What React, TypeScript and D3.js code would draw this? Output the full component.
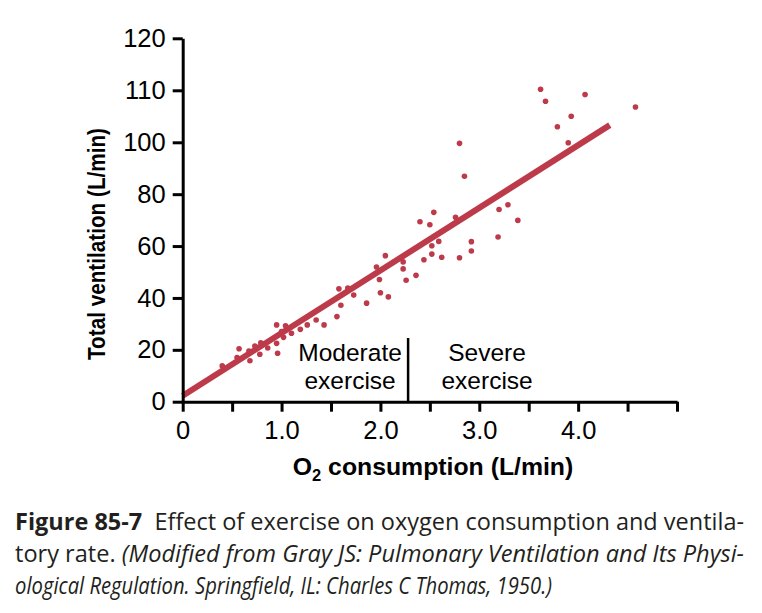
import React, { useEffect, useRef } from "react";
import * as d3 from "d3";

// O2 consumption (L/min), one entry per measurement
const o2Uptake = [
  0.4, 0.55, 0.57, 0.68, 0.67, 0.73, 0.78, 0.79, 0.86, 0.95,
  0.95, 0.96, 1.0, 1.02, 1.04, 1.1, 1.19, 1.26, 1.35, 1.43,
  1.56, 1.58, 1.6, 1.67, 1.73, 1.86, 1.96, 1.99, 2.0, 2.05,
  2.08, 2.23, 2.23, 2.26, 2.36, 2.44, 2.52, 2.52, 2.59, 2.62,
  2.4, 2.5, 2.54, 2.76, 2.8, 2.92, 2.92, 3.19, 3.2, 3.29,
  3.39, 2.8, 2.85, 3.62, 3.67, 4.07, 4.58, 3.93, 3.79, 3.9,
];

// Total ventilation (L/min), same order as o2Uptake
const ventilation = [
  13.8, 17.0, 20.4, 15.8, 19.5, 21.5, 18.3, 22.7, 20.7, 29.6,
  22.5, 18.7, 27.0, 24.8, 29.3, 26.4, 27.9, 29.6, 31.5, 29.6,
  32.8, 43.5, 37.2, 43.8, 41.1, 38.0, 51.9, 47.1, 42.0, 56.3,
  40.4, 53.9, 51.2, 46.8, 48.7, 54.7, 60.1, 56.9, 61.8, 55.7,
  69.4, 68.2, 73.0, 71.1, 55.5, 61.7, 58.1, 63.5, 74.1, 75.9,
  69.9, 99.6, 86.9, 110.2, 107.9, 109.2, 106.8, 105.0, 103.0, 99.8,
];

// regression line end points
const fitO2 = [0, 4.32];
const fitVent = [2.3, 103.3];

const xTicks = [0, 0.5, 1, 1.5, 2, 2.5, 3, 3.5, 4, 4.5, 5];
const xTickLabels = ["0", "", "1.0", "", "2.0", "", "3.0", "", "4.0", "", ""];
const yTicks = [0, 20, 40, 60, 80, 100, 110, 120];
const yTickLabels = ["0", "20", "40", "60", "80", "100", "110", "120"];

// boundary between the two exercise zones (L/min)
const zoneSplit = 2.28;
const moderateLabel = ["Moderate", "exercise"];
const severeLabel = ["Severe", "exercise"];

const captionLines = [
  [
    { text: "Figure 85-7", weight: "bold", style: "normal" },
    { text: "\u00a0 Effect of exercise on oxygen consumption and ventila-", weight: "normal", style: "normal" },
  ],
  [
    { text: "tory rate. ", weight: "normal", style: "normal" },
    { text: "(Modified from Gray JS: Pulmonary Ventilation and Its Physi-", weight: "normal", style: "italic" },
  ],
  [
    { text: "ological Regulation. Springfield, IL: Charles C Thomas, 1950.)", weight: "normal", style: "italic" },
  ],
];
const captionWidths = [729, 729, 537];

const RED = "#bd3a4a";
const INK = "#000";
const SANS = "'Liberation Sans', Arial, Helvetica, sans-serif";

const App = () => {
  const ref = useRef<SVGSVGElement>(null);

  useEffect(() => {
    const svg = d3.select(ref.current);
    svg.selectAll("*").remove();

    const x = d3.scaleLinear().domain([0, 5]).range([182.7, 677]);
    // the axis is labelled 100, 110, 120 above 100 at the same spacing as the 20s below
    const y = d3.scaleLinear().domain([0, 100, 120]).range([401.7, 142.3, 38.3]);

    const points = o2Uptake.map((d, i) => ({ o2: d, v: ventilation[i] }));

    // regression line
    const fit = fitO2.map((d, i) => ({ o2: d, v: fitVent[i] }));
    svg.append("path")
      .datum(fit)
      .attr("fill", "none")
      .attr("stroke", RED)
      .attr("stroke-width", 6)
      .attr("d", d3.line<{ o2: number; v: number }>().x(d => x(d.o2)).y(d => y(d.v)));

    svg.append("g")
      .selectAll("circle")
      .data(points)
      .join("circle")
      .attr("cx", d => x(d.o2))
      .attr("cy", d => y(d.v))
      .attr("r", 2.8)
      .attr("fill", RED);

    // zone divider
    svg.append("line")
      .attr("x1", x(zoneSplit)).attr("x2", x(zoneSplit))
      .attr("y1", 338).attr("y2", y(0))
      .attr("stroke", INK)
      .attr("stroke-width", 2.5);

    const zone = (lines: string[], cx: number) => {
      const t = svg.append("text")
        .attr("text-anchor", "middle")
        .attr("font-family", SANS)
        .attr("font-size", 24.5)
        .attr("fill", INK);
      lines.forEach((s, i) => {
        t.append("tspan").attr("x", cx).attr("y", 361 + i * 28).text(s);
      });
    };
    zone(moderateLabel, x(zoneSplit) - 58);
    zone(severeLabel, x(zoneSplit) + 79);

    // axes
    const xAxis = svg.append("g")
      .attr("transform", `translate(0,${y(0)})`)
      .call(
        d3.axisBottom(x)
          .tickValues(xTicks)
          .tickSize(10)
          .tickSizeOuter(0)
          .tickPadding(9)
          .tickFormat((_, i) => xTickLabels[i])
      );

    const yAxis = svg.append("g")
      .attr("transform", `translate(${x(0)},0)`)
      .call(
        d3.axisLeft(y)
          .tickValues(yTicks)
          .tickSize(10)
          .tickSizeOuter(0)
          .tickPadding(7)
          .tickFormat((_, i) => yTickLabels[i])
      );

    [xAxis, yAxis].forEach(g => {
      g.select(".domain").attr("stroke", INK).attr("stroke-width", 3);
      g.selectAll(".tick line").attr("stroke", INK).attr("stroke-width", 3);
      g.selectAll(".tick text")
        .attr("font-family", SANS)
        .attr("font-size", 25.5)
        .attr("fill", INK);
    });

    // axis titles
    const xTitle = svg.append("text")
      .attr("x", 433)
      .attr("y", 475)
      .attr("text-anchor", "middle")
      .attr("font-family", SANS)
      .attr("font-weight", "bold")
      .attr("font-size", 24.8)
      .attr("fill", INK);
    xTitle.append("tspan").text("O");
    xTitle.append("tspan").attr("font-size", 16.5).attr("dy", 6).text("2");
    xTitle.append("tspan").attr("dy", -6).text(" consumption (L/min)");

    svg.append("text")
      .attr("transform", "translate(105,244) rotate(-90)")
      .attr("text-anchor", "middle")
      .attr("font-family", SANS)
      .attr("font-weight", "bold")
      .attr("font-size", 23)
      .attr("textLength", 232)
      .attr("lengthAdjust", "spacingAndGlyphs")
      .attr("fill", INK)
      .text("Total ventilation (L/min)");

    // caption
    captionLines.forEach((parts, i) => {
      const t = svg.append("text")
        .attr("x", 15)
        .attr("y", 530 + i * 32)
        .attr("font-family", "'Open Sans', 'Noto Sans', sans-serif")
        .attr("font-size", 23.5)
        .attr("fill", "#231f20")
        .attr("textLength", captionWidths[i])
        .attr("lengthAdjust", "spacingAndGlyphs");
      parts.forEach(p => {
        t.append("tspan")
          .attr("font-weight", p.weight)
          .attr("font-style", p.style)
          .text(p.text);
      });
    });
  }, []);

  return (
    <svg
      ref={ref}
      width={762}
      height={613}
      style={{ position: "absolute", left: 0, top: 0, background: "#fff" }}
    />
  );
};

export default App;
